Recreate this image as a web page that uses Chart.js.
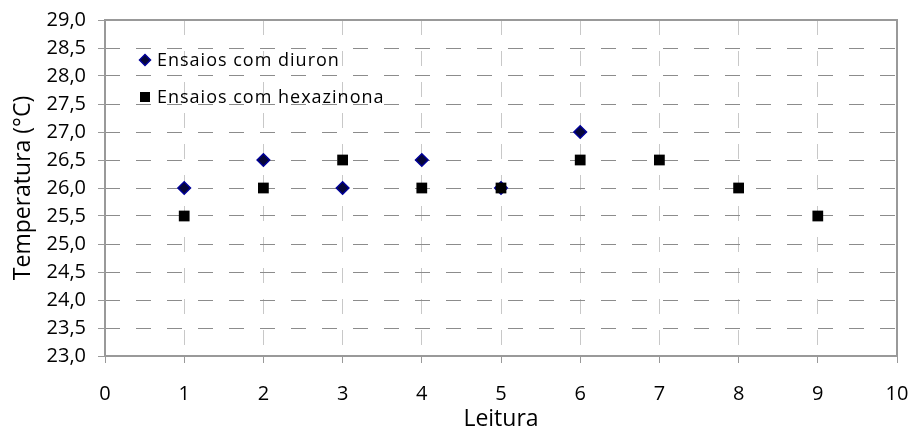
<!DOCTYPE html>
<html>
<head>
<meta charset="utf-8">
<script src="https://cdn.jsdelivr.net/npm/chart.js@4.4.1/dist/chart.umd.min.js"></script>
<style>
html,body{margin:0;padding:0;background:#fff;}
#wrap{width:909px;height:430px;position:relative;}
</style>
</head>
<body>
<div id="wrap"><canvas id="c" width="909" height="430"></canvas></div>
<script>
const leituraDiuron = [1, 2, 3, 4, 5, 6];
const tempDiuron = [26.0, 26.5, 26.0, 26.5, 26.0, 27.0];
const leituraHexazinona = [1, 2, 3, 4, 5, 6, 7, 8, 9];
const tempHexazinona = [25.5, 26.0, 26.5, 26.0, 26.0, 26.5, 26.5, 26.0, 25.5];
const seriesLabels = ['Ensaios com diuron', 'Ensaios com hexazinona'];
const xTitle = 'Leitura';
const yTitle = 'Temperatura (°C)';

const FONT = '"Open Sans", sans-serif';

function toPoints(xs, ys){ return xs.map((x,i)=>({x:x, y:ys[i]})); }

const insideLegend = {
  id: 'insideLegend',
  afterDraw(chart){
    const ctx = chart.ctx;
    ctx.save();
    ctx.font = '18px ' + FONT;
    try { ctx.letterSpacing = '1px'; } catch(e) {}
    ctx.textBaseline = 'middle';
    const ys = [60, 97];
    chart.data.datasets.forEach((ds, i) => {
      const y = ys[i];
      const x = 145;
      ctx.beginPath();
      if (ds.pointStyle === 'rectRot') {
        const r = 5.5;
        ctx.moveTo(x, y - r); ctx.lineTo(x + r, y); ctx.lineTo(x, y + r); ctx.lineTo(x - r, y); ctx.closePath();
        ctx.fillStyle = ds.backgroundColor; ctx.fill();
        ctx.lineWidth = 1.5; ctx.strokeStyle = ds.borderColor; ctx.stroke();
      } else {
        ctx.fillStyle = ds.backgroundColor; ctx.fillRect(x - 5, y - 5, 10, 10);
      }
      ctx.fillStyle = '#000';
      ctx.fillText(ds.label, 157, y + 1);
    });
    ctx.restore();
  }
};

const plotBorder = {
  id: 'plotBorder',
  afterDatasetsDraw(chart){
    const a = chart.chartArea, ctx = chart.ctx;
    ctx.save();
    ctx.strokeStyle = '#999';
    ctx.lineWidth = 2;
    ctx.strokeRect(a.left, a.top, a.right - a.left, a.bottom - a.top);
    ctx.restore();
  }
};

new Chart(document.getElementById('c'), {
  type: 'scatter',
  data: {
    datasets: [
      {
        label: seriesLabels[0],
        data: toPoints(leituraDiuron, tempDiuron),
        pointStyle: 'rectRot',
        pointRadius: 6.3,
        pointHoverRadius: 6.3,
        backgroundColor: '#06063a',
        borderColor: '#000099',
        borderWidth: 1.5,
        order: 1
      },
      {
        label: seriesLabels[1],
        data: toPoints(leituraHexazinona, tempHexazinona),
        pointStyle: 'rect',
        pointRadius: 7.6,
        pointHoverRadius: 7.6,
        backgroundColor: '#000',
        borderColor: '#000',
        borderWidth: 0,
        order: 0
      }
    ]
  },
  options: {
    responsive: false,
    animation: false,
    events: [],
    layout: { padding: { left: 0, right: 12, top: 20, bottom: 0 } },
    plugins: { legend: { display: false }, tooltip: { enabled: false } },
    scales: {
      x: {
        type: 'linear', min: 0, max: 10,
        ticks: { stepSize: 1, color: '#000', font: { family: FONT, size: 20 }, padding: 19, maxRotation: 0 },
        grid: { color: '#c8c8c8', lineWidth: 1, tickLength: 7, tickColor: '#999' },
        border: { display: false, dash: [15, 16] },
        title: { display: true, text: xTitle, color: '#000', font: { family: FONT, size: 23, lineHeight: 0.9 }, padding: { top: 0, bottom: 0 } },
        afterFit(s){ s.height = 74; s.paddingLeft = 0; s.paddingRight = 0; }
      },
      y: {
        type: 'linear', min: 23, max: 29,
        ticks: { stepSize: 0.5, color: '#000', font: { family: FONT, size: 20 }, padding: 12,
          callback: v => v.toFixed(1).replace('.', ',') },
        grid: { color: '#8c8c8c', lineWidth: 1, tickLength: 7, tickColor: '#999' },
        border: { display: false, dash: [15, 16] },
        title: { display: true, text: yTitle, color: '#000', font: { family: FONT, size: 23 }, padding: { top: 10, bottom: 0 } },
        afterFit(s){ s.width = 105; s.paddingTop = 0; s.paddingBottom = 0; }
      }
    }
  },
  plugins: [plotBorder, insideLegend]
});
</script>
</body>
</html>
